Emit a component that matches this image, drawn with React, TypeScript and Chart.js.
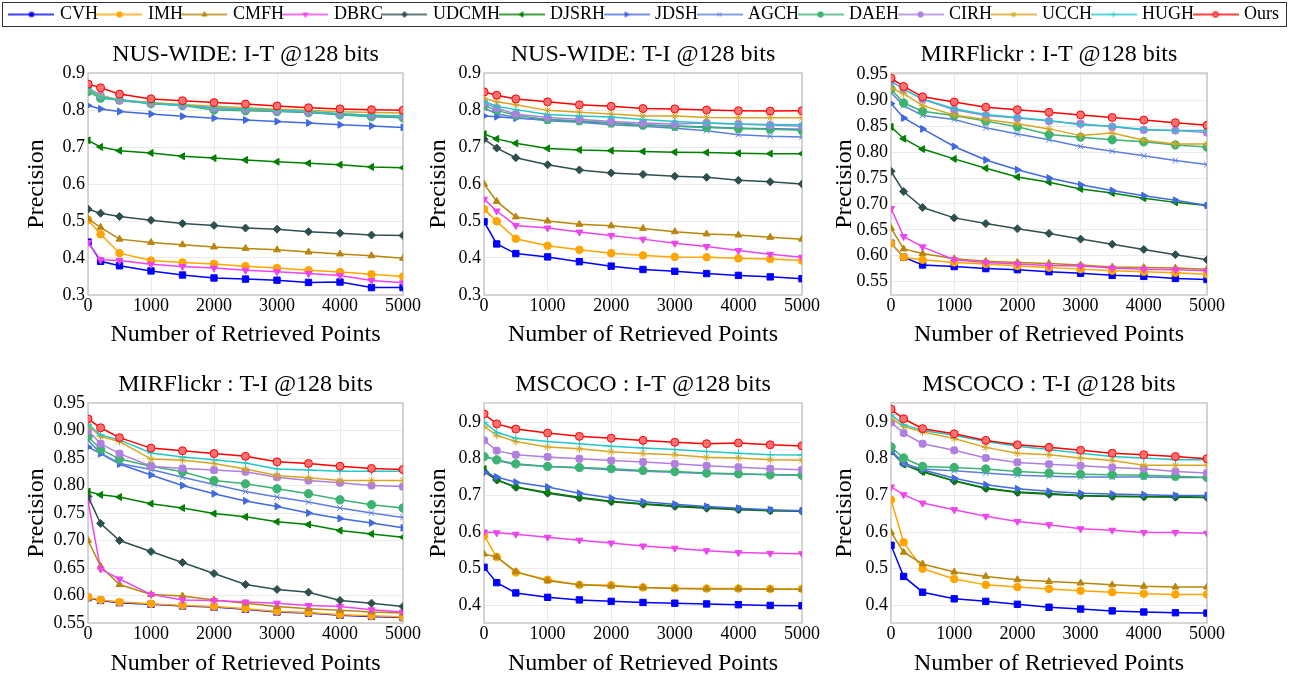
import React, { useEffect, useRef } from 'react';
import { Chart, registerables } from 'chart.js';
import { drawPoint } from 'chart.js/helpers';

Chart.register(...registerables);

const FONT = "'Liberation Serif', 'Times New Roman', serif";
Chart.defaults.font.family = FONT;
Chart.defaults.color = '#000';

// ---------- data ----------
const xPoints = [1, 200, 500, 1000, 1500, 2000, 2500, 3000, 3500, 4000, 4500, 5000];
const xTickValues = [0, 1000, 2000, 3000, 4000, 5000];

const methods = ['CVH', 'IMH', 'CMFH', 'DBRC', 'UDCMH', 'DJSRH', 'JDSH', 'AGCH', 'DAEH', 'CIRH', 'UCCH', 'HUGH', 'Ours'];
const lineColors = ['#0000ff', '#ffa500', '#b8860b', '#ee44ee', '#2f4f4f', '#008000', '#4169e1', '#5b7fe0', '#3cb371', '#b07fe0', '#daa520', '#20c8c8', '#ff0000'];
const markerFills = ['#0000ff', '#ffa500', '#b8860b', '#ee44ee', '#2f4f4f', '#008000', '#4169e1', '#5b7fe0', '#3cb371', '#b07fe0', '#daa520', '#20c8c8', '#ff7070'];
const markerStyles = ['rect', 'circle', 'triangle', 'triangle', 'rectRot', 'triangle', 'triangle', 'crossRot', 'circle', 'rectRounded', 'star', 'cross', 'circle'];
const markerRotations = [0, 0, 0, 180, 0, -90, 90, 0, 0, 0, 0, 0, 0];
const markerRadii = [4.5, 3.8, 4, 4, 4, 4, 4, 4, 4.2, 4, 4, 4, 4];

const titles = [
  'NUS-WIDE: I-T @128 bits',
  'NUS-WIDE: T-I @128 bits',
  'MIRFlickr : I-T @128 bits',
  'MIRFlickr : T-I @128 bits',
  'MSCOCO : I-T @128 bits',
  'MSCOCO : T-I @128 bits',
];
const xAxisTitle = 'Number of Retrieved Points';
const yAxisTitle = 'Precision';

const yTicksNus = [0.3, 0.4, 0.5, 0.6, 0.7, 0.8, 0.9];
const yTicksMir = [0.55, 0.6, 0.65, 0.7, 0.75, 0.8, 0.85, 0.9, 0.95];
const yTicksCoco = [0.4, 0.5, 0.6, 0.7, 0.8, 0.9];

// rows follow the order of `methods`
const nusWideIT = [
  [0.443, 0.391, 0.379, 0.365, 0.354, 0.346, 0.343, 0.340, 0.334, 0.335, 0.320, 0.320],
  [0.503, 0.464, 0.413, 0.393, 0.388, 0.384, 0.378, 0.373, 0.367, 0.362, 0.356, 0.350],
  [0.506, 0.483, 0.451, 0.442, 0.436, 0.430, 0.426, 0.422, 0.416, 0.411, 0.406, 0.399],
  [0.442, 0.395, 0.393, 0.383, 0.377, 0.373, 0.367, 0.363, 0.358, 0.353, 0.339, 0.333],
  [0.532, 0.521, 0.512, 0.502, 0.493, 0.488, 0.481, 0.478, 0.471, 0.467, 0.462, 0.461],
  [0.718, 0.700, 0.690, 0.684, 0.675, 0.670, 0.665, 0.660, 0.656, 0.652, 0.646, 0.644],
  [0.812, 0.803, 0.796, 0.789, 0.783, 0.778, 0.773, 0.769, 0.765, 0.760, 0.757, 0.753],
  [0.855, 0.838, 0.825, 0.818, 0.813, 0.804, 0.801, 0.797, 0.794, 0.788, 0.784, 0.781],
  [0.850, 0.832, 0.827, 0.817, 0.812, 0.800, 0.798, 0.796, 0.793, 0.787, 0.782, 0.779],
  [0.860, 0.840, 0.826, 0.818, 0.813, 0.805, 0.802, 0.798, 0.795, 0.790, 0.786, 0.783],
  [0.855, 0.838, 0.828, 0.820, 0.815, 0.810, 0.806, 0.802, 0.799, 0.795, 0.793, 0.792],
  [0.858, 0.835, 0.828, 0.818, 0.813, 0.806, 0.803, 0.799, 0.796, 0.790, 0.786, 0.784],
  [0.870, 0.860, 0.843, 0.830, 0.825, 0.820, 0.816, 0.811, 0.806, 0.803, 0.801, 0.799],
];

const nusWideTI = [
  [0.498, 0.438, 0.412, 0.403, 0.390, 0.378, 0.369, 0.364, 0.358, 0.353, 0.349, 0.344],
  [0.532, 0.499, 0.452, 0.433, 0.422, 0.413, 0.407, 0.403, 0.402, 0.399, 0.397, 0.393],
  [0.600, 0.553, 0.511, 0.500, 0.491, 0.487, 0.480, 0.471, 0.465, 0.462, 0.456, 0.451],
  [0.559, 0.527, 0.488, 0.481, 0.470, 0.461, 0.451, 0.440, 0.431, 0.420, 0.410, 0.402],
  [0.721, 0.697, 0.671, 0.652, 0.638, 0.630, 0.626, 0.621, 0.618, 0.610, 0.606, 0.600],
  [0.735, 0.722, 0.710, 0.696, 0.692, 0.690, 0.688, 0.686, 0.685, 0.683, 0.682, 0.682],
  [0.784, 0.782, 0.778, 0.774, 0.769, 0.765, 0.760, 0.757, 0.754, 0.751, 0.749, 0.748],
  [0.805, 0.790, 0.780, 0.771, 0.767, 0.760, 0.756, 0.751, 0.744, 0.733, 0.729, 0.727],
  [0.812, 0.799, 0.786, 0.774, 0.771, 0.765, 0.759, 0.756, 0.753, 0.750, 0.748, 0.745],
  [0.819, 0.805, 0.789, 0.780, 0.775, 0.769, 0.765, 0.762, 0.765, 0.762, 0.759, 0.756],
  [0.832, 0.822, 0.814, 0.799, 0.794, 0.789, 0.784, 0.784, 0.780, 0.779, 0.779, 0.779],
  [0.823, 0.810, 0.801, 0.788, 0.784, 0.781, 0.774, 0.769, 0.765, 0.762, 0.761, 0.760],
  [0.849, 0.840, 0.830, 0.822, 0.814, 0.810, 0.804, 0.803, 0.800, 0.798, 0.797, 0.798],
];

const mirIT = [
  [0.624, 0.597, 0.582, 0.579, 0.575, 0.573, 0.569, 0.566, 0.562, 0.560, 0.556, 0.554],
  [0.624, 0.597, 0.592, 0.587, 0.584, 0.580, 0.577, 0.574, 0.571, 0.569, 0.567, 0.564],
  [0.653, 0.613, 0.604, 0.594, 0.589, 0.587, 0.585, 0.582, 0.578, 0.577, 0.576, 0.574],
  [0.691, 0.637, 0.617, 0.592, 0.587, 0.584, 0.581, 0.580, 0.576, 0.574, 0.573, 0.571],
  [0.763, 0.724, 0.693, 0.673, 0.662, 0.652, 0.643, 0.632, 0.622, 0.612, 0.602, 0.592],
  [0.849, 0.826, 0.806, 0.787, 0.769, 0.752, 0.742, 0.729, 0.721, 0.711, 0.703, 0.697],
  [0.894, 0.866, 0.845, 0.811, 0.785, 0.766, 0.750, 0.737, 0.726, 0.716, 0.707, 0.697],
  [0.915, 0.890, 0.871, 0.863, 0.847, 0.835, 0.824, 0.811, 0.802, 0.793, 0.784, 0.776],
  [0.922, 0.895, 0.879, 0.871, 0.860, 0.849, 0.834, 0.829, 0.824, 0.820, 0.814, 0.810],
  [0.937, 0.922, 0.902, 0.882, 0.871, 0.866, 0.860, 0.855, 0.849, 0.843, 0.842, 0.838],
  [0.924, 0.913, 0.890, 0.872, 0.863, 0.855, 0.845, 0.832, 0.837, 0.823, 0.816, 0.816],
  [0.938, 0.922, 0.903, 0.884, 0.873, 0.867, 0.861, 0.853, 0.850, 0.844, 0.842, 0.842],
  [0.943, 0.927, 0.907, 0.897, 0.887, 0.882, 0.877, 0.872, 0.867, 0.862, 0.857, 0.852],
];

const mirTI = [
  [0.596, 0.591, 0.587, 0.584, 0.581, 0.579, 0.575, 0.570, 0.568, 0.564, 0.562, 0.560],
  [0.597, 0.592, 0.588, 0.585, 0.582, 0.580, 0.576, 0.571, 0.569, 0.565, 0.563, 0.561],
  [0.700, 0.653, 0.620, 0.602, 0.599, 0.592, 0.586, 0.580, 0.576, 0.573, 0.570, 0.568],
  [0.771, 0.648, 0.630, 0.602, 0.592, 0.591, 0.588, 0.586, 0.582, 0.580, 0.574, 0.570],
  [0.780, 0.731, 0.700, 0.680, 0.660, 0.640, 0.620, 0.611, 0.606, 0.591, 0.586, 0.580],
  [0.789, 0.783, 0.779, 0.767, 0.759, 0.749, 0.743, 0.734, 0.729, 0.718, 0.712, 0.706],
  [0.870, 0.858, 0.839, 0.819, 0.800, 0.785, 0.772, 0.762, 0.750, 0.740, 0.732, 0.723],
  [0.882, 0.859, 0.840, 0.829, 0.815, 0.802, 0.789, 0.779, 0.770, 0.759, 0.750, 0.742],
  [0.889, 0.866, 0.848, 0.835, 0.825, 0.809, 0.803, 0.794, 0.785, 0.774, 0.765, 0.759],
  [0.900, 0.876, 0.858, 0.835, 0.831, 0.828, 0.825, 0.815, 0.809, 0.805, 0.800, 0.798],
  [0.909, 0.889, 0.880, 0.848, 0.846, 0.840, 0.830, 0.818, 0.814, 0.809, 0.809, 0.809],
  [0.911, 0.892, 0.883, 0.859, 0.852, 0.847, 0.841, 0.830, 0.828, 0.826, 0.826, 0.826],
  [0.921, 0.905, 0.887, 0.868, 0.863, 0.858, 0.853, 0.843, 0.840, 0.835, 0.831, 0.829],
];

const cocoIT = [
  [0.504, 0.462, 0.434, 0.422, 0.415, 0.411, 0.408, 0.406, 0.404, 0.402, 0.400, 0.399],
  [0.590, 0.532, 0.490, 0.470, 0.456, 0.455, 0.449, 0.447, 0.446, 0.446, 0.445, 0.445],
  [0.540, 0.532, 0.492, 0.467, 0.456, 0.453, 0.449, 0.446, 0.445, 0.445, 0.444, 0.444],
  [0.600, 0.598, 0.594, 0.586, 0.578, 0.570, 0.562, 0.556, 0.549, 0.544, 0.542, 0.541],
  [0.765, 0.742, 0.722, 0.706, 0.693, 0.683, 0.676, 0.670, 0.665, 0.661, 0.658, 0.657],
  [0.772, 0.743, 0.723, 0.708, 0.695, 0.684, 0.677, 0.672, 0.667, 0.663, 0.659, 0.658],
  [0.763, 0.750, 0.736, 0.723, 0.706, 0.693, 0.683, 0.676, 0.670, 0.665, 0.661, 0.658],
  [0.808, 0.795, 0.784, 0.779, 0.775, 0.770, 0.766, 0.763, 0.760, 0.758, 0.757, 0.755],
  [0.806, 0.797, 0.786, 0.779, 0.776, 0.773, 0.768, 0.765, 0.761, 0.759, 0.756, 0.755],
  [0.850, 0.822, 0.811, 0.805, 0.800, 0.795, 0.791, 0.786, 0.781, 0.777, 0.773, 0.770],
  [0.888, 0.864, 0.847, 0.832, 0.827, 0.819, 0.814, 0.811, 0.804, 0.802, 0.797, 0.796],
  [0.900, 0.872, 0.856, 0.847, 0.841, 0.834, 0.829, 0.825, 0.820, 0.815, 0.811, 0.810],
  [0.922, 0.895, 0.881, 0.870, 0.861, 0.856, 0.850, 0.845, 0.841, 0.843, 0.838, 0.835],
];

const cocoTI = [
  [0.564, 0.479, 0.436, 0.418, 0.411, 0.403, 0.395, 0.390, 0.385, 0.382, 0.380, 0.379],
  [0.688, 0.572, 0.500, 0.472, 0.456, 0.450, 0.445, 0.440, 0.436, 0.432, 0.430, 0.430],
  [0.599, 0.545, 0.513, 0.491, 0.479, 0.470, 0.465, 0.461, 0.456, 0.452, 0.450, 0.450],
  [0.723, 0.702, 0.679, 0.661, 0.643, 0.629, 0.620, 0.609, 0.605, 0.599, 0.599, 0.597],
  [0.822, 0.788, 0.766, 0.739, 0.719, 0.708, 0.703, 0.699, 0.697, 0.696, 0.695, 0.694],
  [0.820, 0.784, 0.764, 0.740, 0.720, 0.709, 0.705, 0.700, 0.698, 0.697, 0.697, 0.695],
  [0.820, 0.788, 0.770, 0.747, 0.729, 0.718, 0.711, 0.706, 0.704, 0.702, 0.700, 0.700],
  [0.825, 0.784, 0.772, 0.767, 0.761, 0.755, 0.752, 0.750, 0.750, 0.750, 0.749, 0.749],
  [0.832, 0.802, 0.779, 0.776, 0.772, 0.765, 0.761, 0.758, 0.756, 0.755, 0.752, 0.749],
  [0.899, 0.870, 0.841, 0.823, 0.802, 0.790, 0.785, 0.781, 0.776, 0.773, 0.765, 0.761],
  [0.911, 0.888, 0.873, 0.855, 0.831, 0.815, 0.811, 0.802, 0.795, 0.782, 0.782, 0.782],
  [0.920, 0.893, 0.877, 0.864, 0.847, 0.834, 0.825, 0.815, 0.806, 0.802, 0.797, 0.797],
  [0.935, 0.909, 0.882, 0.868, 0.850, 0.838, 0.831, 0.823, 0.815, 0.811, 0.806, 0.800],
];

// ---------- layout ----------
type Panel = {
  title: string;
  values: number[][];
  yTicks: number[];
  yMin: number;
  yMax: number;
  decimals: number;
  col: number;
  row: number;
};

const panels: Panel[] = [
  { title: titles[0], values: nusWideIT, yTicks: yTicksNus, yMin: 0.3, yMax: 0.9, decimals: 1, col: 0, row: 0 },
  { title: titles[1], values: nusWideTI, yTicks: yTicksNus, yMin: 0.3, yMax: 0.9, decimals: 1, col: 1, row: 0 },
  { title: titles[2], values: mirIT, yTicks: yTicksMir, yMin: 0.524, yMax: 0.953, decimals: 2, col: 2, row: 0 },
  { title: titles[3], values: mirTI, yTicks: yTicksMir, yMin: 0.55, yMax: 0.95, decimals: 2, col: 0, row: 1 },
  { title: titles[4], values: cocoIT, yTicks: yTicksCoco, yMin: 0.352, yMax: 0.952, decimals: 1, col: 1, row: 1 },
  { title: titles[5], values: cocoTI, yTicks: yTicksCoco, yMin: 0.352, yMax: 0.952, decimals: 1, col: 2, row: 1 },
];

const colLayout = [
  { left: 0, width: 424, yAxisWidth: 88, yTitlePad: 22.6, padRight: 21 },
  { left: 424, width: 404, yAxisWidth: 60, yTitlePad: 0, padRight: 26 },
  { left: 828, width: 463, yAxisWidth: 63, yTitlePad: 2.6, padRight: 84 },
];
const rowLayout = [
  { top: 30, height: 325, xAxisHeight: 60, xTitlePad: 5.6 },
  { top: 360, height: 324, xAxisHeight: 61, xTitlePad: 6.1 },
];

const framePlugin = {
  id: 'frame',
  beforeDatasetsDraw(chart: any) {
    const { ctx, chartArea } = chart;
    ctx.save();
    ctx.strokeStyle = '#c9c9c9';
    ctx.lineWidth = 1.5;
    ctx.strokeRect(chartArea.left, chartArea.top, chartArea.right - chartArea.left, chartArea.bottom - chartArea.top);
    ctx.restore();
  },
};

function PanelChart({ p }: { p: Panel }) {
  const ref = useRef<HTMLCanvasElement>(null);
  const c = colLayout[p.col];
  const r = rowLayout[p.row];
  useEffect(() => {
    if (!ref.current) return;
    const datasets = methods.map((m, i) => ({
      label: m,
      data: xPoints.map((x, j) => ({ x, y: p.values[i][j] })),
      borderColor: lineColors[i],
      backgroundColor: markerFills[i],
      pointBackgroundColor: markerFills[i],
      pointBorderColor: lineColors[i],
      pointStyle: markerStyles[i] as any,
      rotation: markerRotations[i],
      pointRadius: markerRadii[i],
      pointBorderWidth: 1,
      borderWidth: 1.5,
      tension: 0,
      order: methods.length - i,
    }));
    const tickFont = { family: FONT, size: 18, weight: 'normal' };
    const titleFont = { family: FONT, size: 24, weight: 'normal' };
    const chart = new Chart(ref.current, {
      type: 'line',
      data: { datasets },
      plugins: [framePlugin],
      options: {
        animation: false,
        responsive: false,
        events: [],
        layout: { padding: { left: 0, right: c.padRight, top: 0, bottom: 0 } },
        plugins: {
          legend: { display: false },
          tooltip: { enabled: false },
          title: {
            display: true,
            text: p.title,
            fullSize: false,
            color: '#000',
            font: titleFont,
            padding: { top: 10.6, bottom: 3.6 },
          },
        },
        scales: {
          x: {
            type: 'linear',
            min: 0,
            max: 5000,
            afterBuildTicks: (s: any) => { s.ticks = xTickValues.map((v) => ({ value: v })); },
            afterFit: (s: any) => { s.height = r.xAxisHeight; },
            grid: { color: '#ebebeb', drawTicks: false },
            border: { display: false },
            ticks: { color: '#000', padding: 0, font: tickFont, maxRotation: 0, callback: (v: any) => String(v) },
            title: { display: true, text: xAxisTitle, color: '#000', font: titleFont, padding: { top: 0, bottom: r.xTitlePad } },
          },
          y: {
            type: 'linear',
            min: p.yMin,
            max: p.yMax,
            afterBuildTicks: (s: any) => { s.ticks = p.yTicks.map((v) => ({ value: v })); },
            afterFit: (s: any) => { s.width = c.yAxisWidth; },
            grid: { color: '#ebebeb', drawTicks: false },
            border: { display: false },
            ticks: { color: '#000', padding: 3, font: tickFont, callback: (v: any) => Number(v).toFixed(p.decimals) },
            title: { display: true, text: yAxisTitle, color: '#000', font: titleFont, padding: { top: c.yTitlePad, bottom: 0 } },
          },
        },
      } as any,
    });
    return () => chart.destroy();
  }, []);
  return (
    <canvas
      ref={ref}
      width={c.width}
      height={r.height}
      style={{ position: 'absolute', left: c.left, top: r.top, width: c.width, height: r.height }}
    />
  );
}

function makeLegendImage(i: number) {
  const cv = document.createElement('canvas');
  cv.width = 46;
  cv.height = 14;
  const ctx = cv.getContext('2d')!;
  ctx.strokeStyle = lineColors[i];
  ctx.lineWidth = 1.5;
  ctx.beginPath();
  ctx.moveTo(0, 7);
  ctx.lineTo(46, 7);
  ctx.stroke();
  ctx.fillStyle = markerFills[i];
  ctx.strokeStyle = lineColors[i];
  ctx.lineWidth = 1;
  drawPoint(ctx, { pointStyle: markerStyles[i] as any, radius: 2.8, rotation: markerRotations[i], borderWidth: 1 } as any, 23, 7);
  return cv;
}

function LegendChart() {
  const ref = useRef<HTMLCanvasElement>(null);
  useEffect(() => {
    if (!ref.current) return;
    const images = methods.map((_, i) => makeLegendImage(i));
    const chart = new Chart(ref.current, {
      type: 'line',
      data: { datasets: methods.map((m, i) => ({ label: m, data: [], borderColor: lineColors[i] })) },
      options: {
        animation: false,
        responsive: false,
        events: [],
        layout: { padding: { left: 2, right: 2, top: 3.5, bottom: 0 } },
        scales: { x: { display: false }, y: { display: false } },
        plugins: {
          tooltip: { enabled: false },
          legend: {
            display: true,
            position: 'top',
            labels: {
              usePointStyle: true,
              pointStyleWidth: 39,
              padding: 2,
              color: '#000',
              font: { family: FONT, size: 18, weight: 'normal' },
              generateLabels: () =>
                methods.map((m, i) => ({
                  text: m,
                  pointStyle: images[i],
                  fillStyle: lineColors[i],
                  strokeStyle: lineColors[i],
                  lineWidth: 0,
                  hidden: false,
                  datasetIndex: i,
                  fontColor: '#000',
                })),
            },
          },
        },
      } as any,
    });
    return () => chart.destroy();
  }, []);
  return <canvas ref={ref} width={1291} height={90} style={{ position: 'absolute', left: 0, top: 0, width: 1291, height: 90 }} />;
}

export default function App() {
  return (
    <div style={{ position: 'absolute', left: 0, top: 0, width: 1291, height: 684, background: '#fff', overflow: 'hidden' }}>
      <div style={{ position: 'absolute', left: 2, top: 2, width: 1285, height: 25, border: '1.5px solid #333', boxSizing: 'border-box' }} />
      {panels.map((p, k) => (
        <PanelChart key={k} p={p} />
      ))}
      <LegendChart />
    </div>
  );
}
